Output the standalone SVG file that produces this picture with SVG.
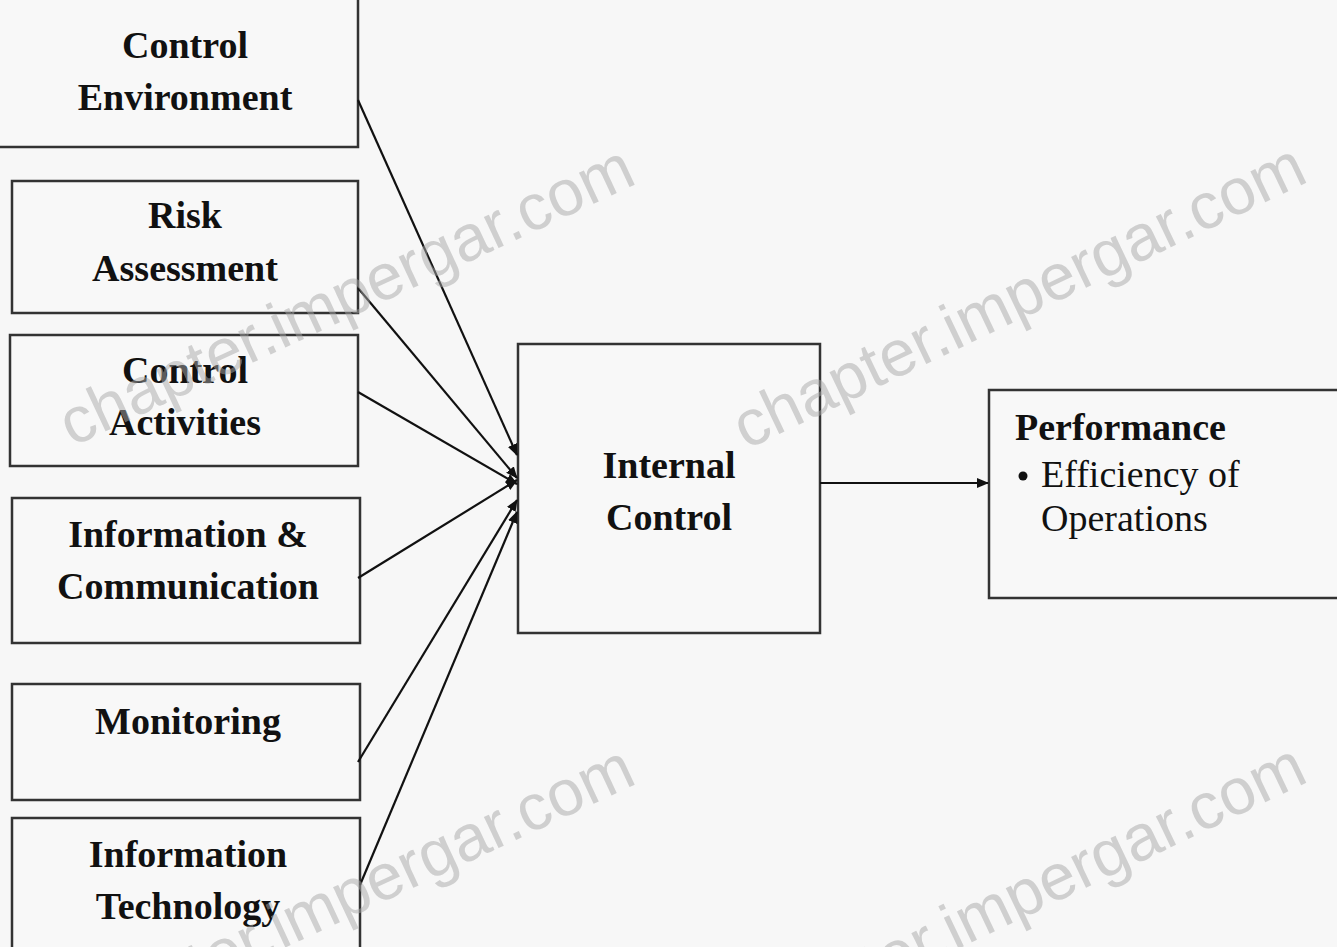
<svg xmlns="http://www.w3.org/2000/svg" width="1337" height="947" viewBox="0 0 1337 947">
<defs>
<style>
.box{fill:#f8f8f8;stroke:#333;stroke-width:2.5}
.t{font-family:"Liberation Serif","Times New Roman",serif;font-weight:bold;font-size:38px;fill:#111;text-anchor:middle}
.r{font-family:"Liberation Serif","Times New Roman",serif;font-size:38px;fill:#111}
.c{stroke:#111;stroke-width:2.2;fill:none}
.wm{font-family:"Liberation Sans",Arial,sans-serif;font-size:65px;fill:#a8a8a8;fill-opacity:0.5}
</style>
<marker id="ah" markerWidth="12" markerHeight="10" refX="11" refY="5" orient="auto" markerUnits="userSpaceOnUse">
<path d="M0,0 L12,5 L0,10 Z" fill="#111"/>
</marker>
</defs>
<rect width="1337" height="947" fill="#f7f7f7"/>

<g id="node-control-environment">
<rect class="box" x="-10" y="-10" width="368" height="157"/>
<text class="t" x="185" y="58">Control</text>
<text class="t" x="185" y="110">Environment</text>
</g>
<g id="node-risk-assessment">
<rect class="box" x="12" y="181" width="346" height="132"/>
<text class="t" x="185" y="228">Risk</text>
<text class="t" x="185" y="281">Assessment</text>
</g>
<g id="node-control-activities">
<rect class="box" x="10" y="335" width="348" height="131"/>
<text class="t" x="185" y="383">Control</text>
<text class="t" x="185" y="435">Activities</text>
</g>
<g id="node-information-communication">
<rect class="box" x="12" y="498" width="348" height="145"/>
<text class="t" x="188" y="547">Information &amp;</text>
<text class="t" x="188" y="599">Communication</text>
</g>
<g id="node-monitoring">
<rect class="box" x="12" y="684" width="348" height="116"/>
<text class="t" x="188" y="734">Monitoring</text>
</g>
<g id="node-information-technology">
<rect class="box" x="12" y="818" width="348" height="150"/>
<text class="t" x="188" y="867">Information</text>
<text class="t" x="188" y="919">Technology</text>
</g>
<g id="node-internal-control">
<rect class="box" x="518" y="344" width="302" height="289"/>
<text class="t" x="669" y="478">Internal</text>
<text class="t" x="669" y="530">Control</text>
</g>
<g id="node-performance">
<rect class="box" x="989" y="390" width="360" height="208"/>
<text class="t" x="1015" y="440" style="text-anchor:start">Performance</text>
<circle cx="1023" cy="476" r="4.5" fill="#111"/>
<text class="r" x="1041" y="487">Efficiency of</text>
<text class="r" x="1041" y="531">Operations</text>
</g>

<g id="connectors">
<line class="c" x1="358" y1="100" x2="517" y2="455" marker-end="url(#ah)"/>
<line class="c" x1="358" y1="288" x2="517" y2="478" marker-end="url(#ah)"/>
<line class="c" x1="358" y1="392" x2="517" y2="484" marker-end="url(#ah)"/>
<line class="c" x1="358" y1="578" x2="517" y2="480" marker-end="url(#ah)"/>
<line class="c" x1="358" y1="762" x2="517" y2="500" marker-end="url(#ah)"/>
<line class="c" x1="360" y1="885" x2="517" y2="512" marker-end="url(#ah)"/>
<line class="c" x1="820" y1="483" x2="988" y2="483" stroke-width="3" marker-end="url(#ah)"/>
</g>

<g id="watermarks">
<text class="wm" transform="translate(72,447) rotate(-25)">chapter.impergar.com</text>
<text class="wm" transform="translate(746,450) rotate(-25.5)">chapter.impergar.com</text>
<text class="wm" transform="translate(72,1047) rotate(-25)">chapter.impergar.com</text>
<text class="wm" transform="translate(746,1050) rotate(-25.5)">chapter.impergar.com</text>
</g>
</svg>
